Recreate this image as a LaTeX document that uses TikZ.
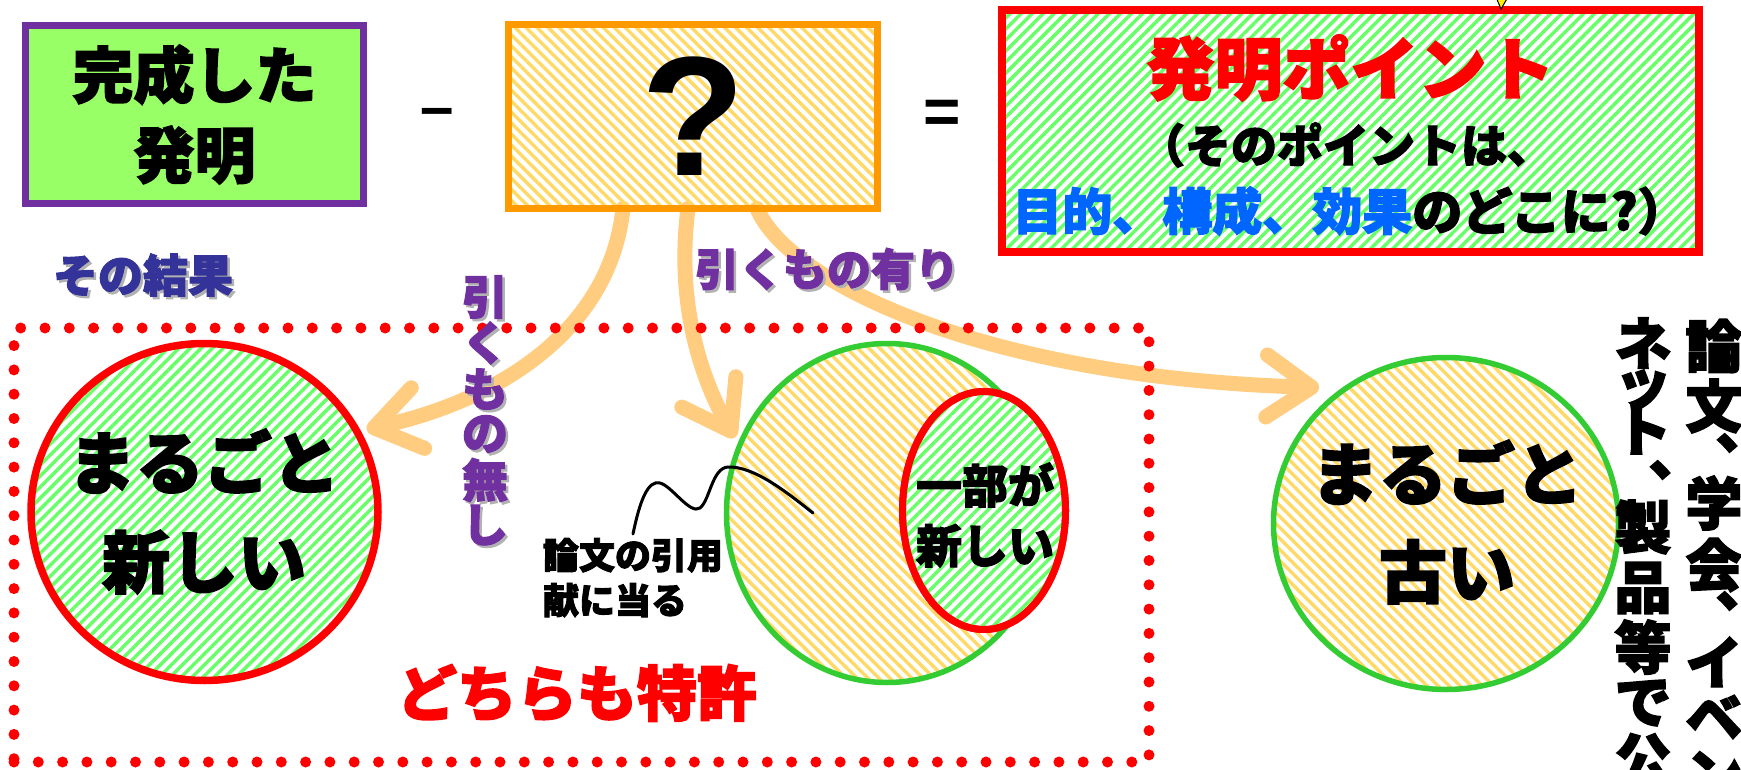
\documentclass[tikz,border=0pt]{standalone}
\usepackage{fontspec}
\newfontfamily\jp{Noto Sans CJK JP}[BoldFeatures={FakeBold=2.5}]
\newfontfamily\lat{Liberation Sans}
\usetikzlibrary{patterns.meta,arrows.meta,calc,shapes.geometric}
\pgfdeclarelayer{back}
\pgfdeclarelayer{bg}
\pgfsetlayers{back,bg,main}
\newcommand{\fsz}[2]{\fontsize{#1pt}{#2pt}\selectfont}
\definecolor{cPurple}{RGB}{112,48,160}
\definecolor{cLime}{RGB}{153,255,102}
\definecolor{cOrange}{RGB}{255,153,0}
\definecolor{cGold}{RGB}{255,217,102}
\definecolor{cRed}{RGB}{255,0,0}
\definecolor{cStripeGreen}{RGB}{102,255,102}
\definecolor{cCircGreen}{RGB}{51,204,51}
\definecolor{cArrow}{RGB}{255,204,128}
\definecolor{cBlue}{RGB}{0,102,255}
\definecolor{cNavy}{RGB}{51,51,153}
\begin{document}
\begin{tikzpicture}[x=1pt,y=-1pt,
  every node/.style={inner sep=0pt,outer sep=0pt},
  greenstripe/.style={pattern={Lines[angle=45,distance=7.8pt,line width=3.4pt]},pattern color=cStripeGreen},
  goldstripe/.style={pattern={Lines[angle=-45,distance=7.8pt,line width=3.4pt]},pattern color=cGold},
  arrowline/.style={draw=cArrow,line width=15pt,line cap=round,-{Straight Barb[length=45pt,width=62pt,round]}},
  dotframe/.style={draw=cRed,line width=11pt,line cap=round,dash pattern=on 0pt off 24.3pt},
  vlabel/.style={font=\jp\bfseries\fsz{46}{46},text=cPurple},
  vshadow/.style={font=\jp\bfseries\fsz{46}{46},text=black!30},
  vcol/.style={font=\jp\bfseries\fsz{57}{57}},
]
\begin{pgfonlayer}{back}
\fill[white] (0,0) rectangle (1741,770);
\end{pgfonlayer}
\useasboundingbox (0,0) rectangle (1741,770);

% top row
\node[draw=cPurple,line width=7.5pt,fill=cLime,minimum width=338pt,minimum height=178pt,
      font=\jp\bfseries\fsz{61}{80},align=center] (inv) at (194.5,114.5) {完成した\\発明};
\node[font=\lat\bfseries\fsz{60}{60}] (minus) at (437,118) {–};
\node[draw=cOrange,line width=7pt,goldstripe,minimum width=369pt,minimum height=184pt,
      font=\lat\bfseries\fsz{170}{170}] (q) at (693,116.5) {?};
\node[font=\lat\bfseries\fsz{64}{64}] (eq) at (942,116.5) {=};
\node[draw=cRed,line width=8pt,greenstripe,minimum width=697pt,minimum height=242pt] (pt) at (1350.5,131) {};
\node[font=\jp\bfseries\fsz{68}{68},text=cRed] (pt1) at (1350.5,68) {発明ポイント};
\node[font=\jp\bfseries\fsz{46}{46}] (pt2) at (1346,145) {（そのポイントは、};
\node[font=\jp\bfseries\fsz{50}{50}] (pt3) at (1350,211) {{\color{cBlue}目的、構成、効果}のどこに?）};
\fill[yellow,draw=black,line width=1pt] (1496,-3) -- (1508,-3) -- (1501,9) -- cycle;

% result label
\node[font=\jp\bfseries\fsz{45}{45},text=black!30] (res0) at (145.5,277.5) {その結果};
\node[font=\jp\bfseries\fsz{45}{45},text=cNavy] (res) at (143,275) {その結果};

% frame
\node[dotframe,minimum width=1135pt,minimum height=434pt] (frame) at (581.5,545) {};

% circles
\node[ellipse,draw=cRed,line width=7.5pt,greenstripe,minimum width=347pt,minimum height=337pt] (c1) at (204.5,512) {};
\node[font=\jp\bfseries\fsz{68}{99},align=center] (c1t) at (204,511.5) {まるごと\\新しい};

\node[ellipse,draw=cCircGreen,line width=5.5pt,goldstripe,minimum width=321pt,minimum height=339pt] (c2) at (887,513) {};
\node[ellipse,draw=cRed,line width=7pt,fill=white,minimum width=163pt,minimum height=238pt] (e2w) at (984,510.5) {};
\node[ellipse,draw=cRed,line width=7pt,greenstripe,minimum width=163pt,minimum height=238pt] (e2) at (984,510.5) {};
\node[font=\jp\bfseries\fsz{46}{60},align=center] (e2t) at (985,515) {一部が\\新しい};

\node[ellipse,draw=cCircGreen,line width=5.5pt,goldstripe,minimum width=345pt,minimum height=332pt] (c3) at (1446,523.5) {};
\node[font=\jp\bfseries\fsz{68}{98},align=center] (c3t) at (1447,522) {まるごと\\古い};

% cite label and squiggle
\node[font=\jp\bfseries\fsz{36}{45},align=left,anchor=north west] (cite) at (543,538) {論文の引用\\献に当る};
\coordinate (sqEnd) at (813,513);
\draw[line width=3pt,line cap=round] ([yshift=4pt]cite.north) .. controls (640,500) and (648,480) .. (660,483)
   .. controls (672,486) and (690,515) .. (700,508)
   .. controls (710,500) and (712,468) .. (728,467)
   .. controls (755,466) and (790,495) .. (sqEnd);

\node[font=\jp\bfseries\fsz{60}{60},text=cRed] (both) at (577,693) {どちらも特許};

% arrows
\begin{pgfonlayer}{bg}
\draw[arrowline] ([xshift=-70pt]q.south) .. controls (610,330) and (500,400) .. ($(c1.center)+(27:182pt)$);
\draw[arrowline] ([xshift=-5pt]q.south) .. controls (675,310) and (705,385) .. ($(c2.center)+(153.7:170pt)$);
\draw[arrowline] ([xshift=64pt]q.south) .. controls (790,285) and (990,378) .. ($(c3.center)+(133:186pt)$);
\end{pgfonlayer}

% arrow labels
\node[font=\jp\bfseries\fsz{44}{44},text=black!30] (has0) at (829.5,271.5) {引くもの有り};
\node[font=\jp\bfseries\fsz{44}{44},text=cPurple] (has) at (827,269) {引くもの有り};
\foreach \ch/\yy [count=\i] in {引/297,く/343,も/389,の/434,無/480,し/525}{
  \node[vshadow] (nosh\i) at (487.5,\yy+2.5) {\ch};
  \node[vlabel] (no\i) at (485,\yy) {\ch};
}

% vertical columns on the right
\foreach \ch/\xx/\yy [count=\i] in {論/1714/346,文/1714/406,、/1744/443,学/1714/503,会/1714/565,、/1744/601,イ/1714/662,ベ/1714/717,ン/1714/775}{
  \node[vcol] (rc\i) at (\xx,\yy) {\ch};
}
\foreach \ch/\xx/\yy [count=\i] in {ネ/1643/343,ッ/1643/390,ト/1643/430,、/1677/470,製/1643/527,品/1643/588,等/1643/647,で/1643/703,公/1643/760}{
  \node[vcol] (lc\i) at (\xx,\yy) {\ch};
}
\end{tikzpicture}
\end{document}
